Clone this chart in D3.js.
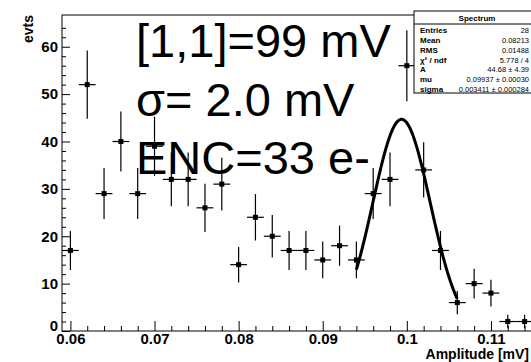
<!DOCTYPE html>
<html>
<head>
<meta charset="utf-8">
<script src="https://cdn.jsdelivr.net/npm/d3@7"></script>
<style>
  body { margin: 0; background: #fff; }
  svg text { font-family: "Liberation Sans", Arial, sans-serif; }
</style>
</head>
<body>
<div class="card"></div>
<script>
// bin centres of the histogram and counts per bin
var binCenters = [0.060, 0.062, 0.064, 0.066, 0.068, 0.070, 0.072, 0.074, 0.076, 0.078,
  0.080, 0.082, 0.084, 0.086, 0.088, 0.090, 0.092, 0.094, 0.096, 0.098,
  0.100, 0.102, 0.104, 0.106, 0.108, 0.110, 0.112, 0.114];
var counts = [17, 52, 29, 40, 29, 39, 32, 32, 26, 31,
  14, 24, 20, 17, 17, 15, 18, 15, 29, 32,
  56, 34, 17, 6, 10, 8, 2, 2];
var binHalfWidth = 0.001;

// gaussian fit parameters (from the stats box)
var fitA = 44.68, fitMu = 0.09937, fitSigma = 0.003411;
var fitRange = [0.094, 0.106];

var xMajor = [0.06, 0.07, 0.08, 0.09, 0.1, 0.11];
var xLabels = ["0.06", "0.07", "0.08", "0.09", "0.1", "0.11"];
var yMajor = [0, 10, 20, 30, 40, 50, 60];

var statRows = [
  ["Entries", "28"],
  ["Mean", "0.08213"],
  ["RMS", "0.01488"],
  ["\u03c7\u00b2 / ndf", "5.778 / 4"],
  ["A", "44.68 \u00b1 4.39"],
  ["mu", "0.09937 \u00b1 0.00030"],
  ["sigma", "0.003411 \u00b1 0.000284"]
];
var bigText = ["[1,1]=99 mV", "\u03c3= 2.0 mV", "ENC=33 e-"];

var W = 531, H = 362;
var margin = {top: 15, right: -2, bottom: 31, left: 62};
var width = W - margin.left - margin.right;
var height = H - margin.top - margin.bottom;

var svg = d3.select('.card')
  .append('svg')
  .attr('width', W)
  .attr('height', H)

var g = svg.append('g')
  .attr('transform', `translate(${margin.left}, ${margin.top})`)

var x = d3.scaleLinear().domain([0.059, 0.115]).range([0, width]);
var y = d3.scaleLinear().domain([0, 66.7]).range([height, 0]);

// frame
g.append('rect')
  .attr('width', width).attr('height', height)
  .attr('fill', 'none').attr('stroke', '#000').attr('stroke-width', 1)

// minor ticks
var xMinor = d3.range(0.06, 0.1155, 0.002).filter(v => xMajor.every(m => Math.abs(m - v) > 1e-6));
var yMinor = d3.range(2, 66, 2).filter(v => v % 10 !== 0);

g.append('g').attr('transform', `translate(0, ${height})`)
  .call(d3.axisBottom(x).tickValues(xMinor).tickSize(-5).tickFormat(''))
  .call(a => a.select('.domain').remove())
g.append('g')
  .call(d3.axisLeft(y).tickValues(yMinor).tickSize(-4).tickFormat(''))
  .call(a => a.select('.domain').remove())

// major ticks + labels
var xAxis = g.append('g').attr('transform', `translate(0, ${height})`)
  .call(d3.axisBottom(x).tickValues(xMajor).tickSize(-10).tickPadding(2).tickFormat((d, i) => xLabels[i]))
xAxis.select('.domain').remove();
xAxis.selectAll('text').attr('font-size', 15).attr('font-weight', 'bold').attr('fill', '#000')
  .attr('font-family', '"Liberation Sans", Arial, sans-serif')

var yAxis = g.append('g')
  .call(d3.axisLeft(y).tickValues(yMajor).tickSize(-8).tickPadding(4).tickFormat(d3.format('d')))
yAxis.select('.domain').remove();
yAxis.selectAll('text').attr('font-size', 15).attr('font-weight', 'bold').attr('fill', '#000')
  .attr('font-family', '"Liberation Sans", Arial, sans-serif')
// the zero label sits a little higher, clear of "0.06"
yAxis.selectAll('text').filter(d => d === 0).attr('y', -5)

// axis titles
svg.append('text')
  .attr('x', 529).attr('y', 359)
  .attr('text-anchor', 'end')
  .attr('font-size', 14).attr('font-weight', 'bold')
  .text('Amplitude [mV]')
svg.append('text')
  .attr('transform', 'translate(33, 15) rotate(-90)')
  .attr('text-anchor', 'end')
  .attr('font-size', 14).attr('font-weight', 'bold')
  .text('evts')

// big annotation
svg.selectAll('.big')
  .data(bigText)
  .enter()
  .append('text')
  .attr('x', 136)
  .attr('y', (d, i) => [57, 116, 174][i])
  .attr('font-size', 47)
  .text(d => d)

// error bars
var pts = binCenters.map((c, i) => ({x: c, n: counts[i], e: Math.sqrt(counts[i])}));
var bars = g.append('g').attr('stroke', '#000').attr('stroke-width', 1.2)
bars.selectAll('.h')
  .data(pts)
  .enter()
  .append('line')
  .attr('x1', d => x(d.x - binHalfWidth)).attr('x2', d => x(d.x + binHalfWidth))
  .attr('y1', d => y(d.n)).attr('y2', d => y(d.n))
bars.selectAll('.v')
  .data(pts)
  .enter()
  .append('line')
  .attr('x1', d => x(d.x)).attr('x2', d => x(d.x))
  .attr('y1', d => y(d.n - d.e)).attr('y2', d => y(Math.min(d.n + d.e, 66.7)))

// fit curve
var fx = d3.range(fitRange[0], fitRange[1] + 1e-9, 0.0001);
var gauss = v => fitA * Math.exp(-0.5 * Math.pow((v - fitMu) / fitSigma, 2));
g.append('path')
  .datum(fx)
  .attr('fill', 'none').attr('stroke', '#000').attr('stroke-width', 3)
  .attr('d', d3.line().x(d => x(d)).y(d => y(gauss(d))).curve(d3.curveMonotoneX))

// markers
g.selectAll('.squares')
  .data(pts)
  .enter()
  .append('rect')
  .attr('x', d => x(d.x) - 2.5)
  .attr('y', d => y(d.n) - 2.5)
  .attr('width', 5).attr('height', 5)
  .style('fill', '#000')

// stats box
var box = svg.append('g').attr('transform', 'translate(414, 11)')
box.append('rect')
  .attr('width', 126).attr('height', 82)
  .attr('fill', '#fff').attr('stroke', '#000')
box.append('line').attr('x1', 0).attr('x2', 126).attr('y1', 13).attr('y2', 13).attr('stroke', '#000')
box.append('text')
  .attr('x', 63).attr('y', 10)
  .attr('text-anchor', 'middle')
  .attr('font-size', 8).attr('font-weight', 'bold')
  .text('Spectrum')
var rowY = d3.scaleLinear().domain([0, statRows.length - 1]).range([22, 81]);
box.selectAll('.lab')
  .data(statRows)
  .enter()
  .append('text')
  .attr('x', 6).attr('y', (d, i) => rowY(i))
  .attr('font-size', 8).attr('font-weight', 'bold')
  .text(d => d[0])
box.selectAll('.val')
  .data(statRows)
  .enter()
  .append('text')
  .attr('x', 115).attr('y', (d, i) => rowY(i))
  .attr('text-anchor', 'end')
  .attr('font-size', 7.5)
  .text(d => d[1])
</script>
</body>
</html>
